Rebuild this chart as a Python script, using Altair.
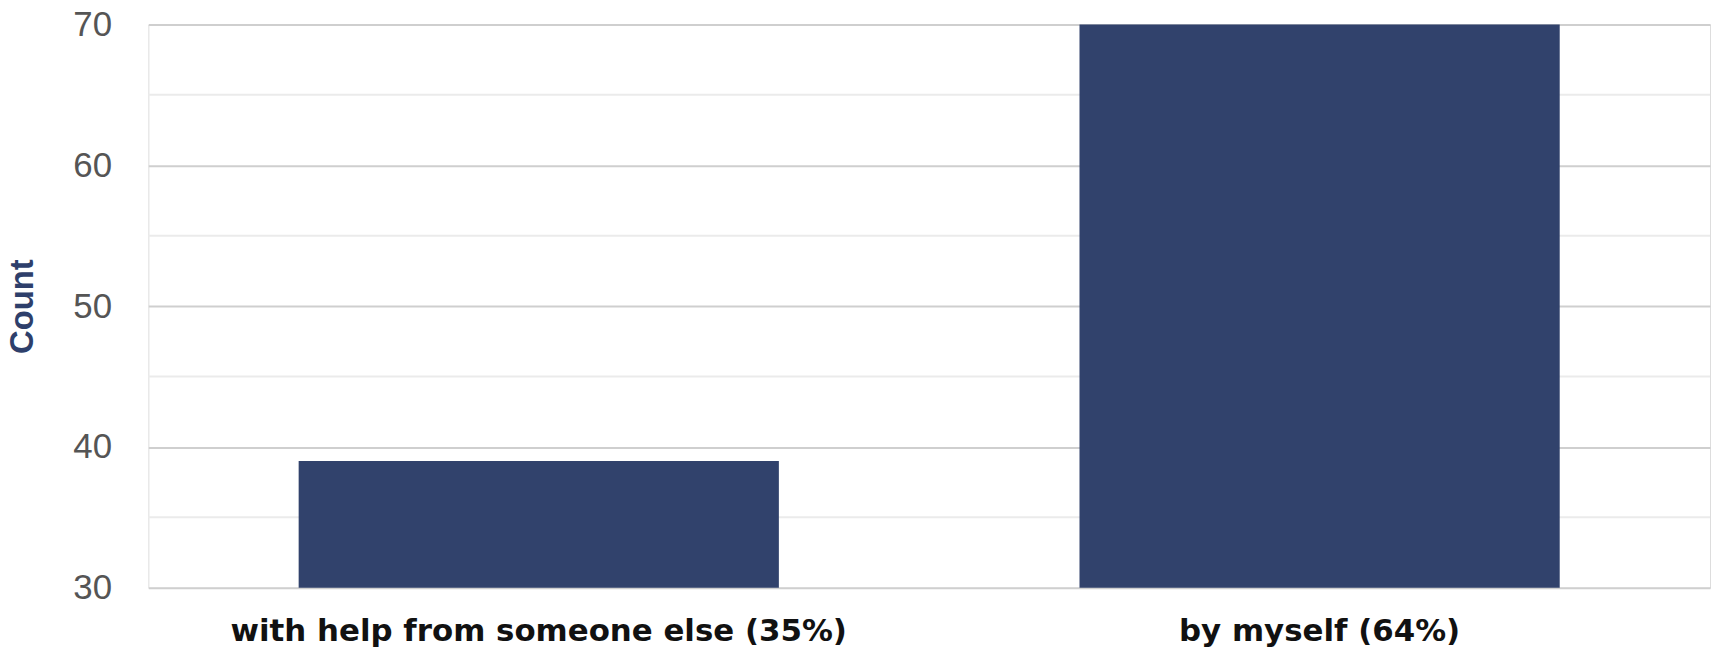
import altair as alt
import pandas as pd

categories = ["with help from someone else (35%)", "by myself (64%)"]
counts = [39, 70]
major_ticks = [30, 40, 50, 60, 70]
minor_ticks = [35, 45, 55, 65]

bars_df = pd.DataFrame({"answer": categories, "count": counts})
minor_df = pd.DataFrame({"v": minor_ticks})

yscale = alt.Scale(domain=[30, 70], zero=False, nice=False)
xscale = alt.Scale(domain=categories, paddingInner=0.385, paddingOuter=0.1925)

minor = alt.Chart(minor_df).mark_rule(color="#ebebeb", strokeWidth=2).encode(
    y=alt.Y("v:Q", scale=yscale)
)

bars = alt.Chart(bars_df).mark_bar(color="#31426c").encode(
    x=alt.X(
        "answer:N",
        scale=xscale,
        sort=categories,
        axis=alt.Axis(
            title=None,
            labelAngle=0,
            labelFont="DejaVu Sans",
            labelFontWeight="bold",
            labelFontSize=31,
            labelColor="#111111",
            labelPadding=29,
            labelLimit=0,
            ticks=False,
            domain=False,
        ),
    ),
    y=alt.Y(
        "count:Q",
        scale=yscale,
        axis=alt.Axis(
            title="Count",
            values=major_ticks,
            labelFont="Liberation Sans",
            labelFontSize=35,
            labelColor="#555555",
            labelPadding=37,
            ticks=False,
            domain=False,
            grid=True,
            gridColor="#cfcfcf",
            gridWidth=2,
            titleFont="Liberation Sans",
            titleFontSize=33,
            titleFontWeight="bold",
            titleColor="#2e3f6b",
            titleX=-116,
            titleY=283,
            titleAngle=270,
            titleAlign="center",
            titleBaseline="alphabetic",
        ),
    ),
    y2=alt.datum(30),
)

chart = (
    alt.layer(minor, bars)
    .properties(
        width=1569,
        height=566,
        padding={"left": 141, "top": 15, "right": 4, "bottom": 60},
        autosize=alt.AutoSizeParams(type="none"),
    )
    .configure_view(stroke=None)
    .configure(background="white")
)

chart.save("out.html", embed_options={"renderer": "svg", "actions": False})
